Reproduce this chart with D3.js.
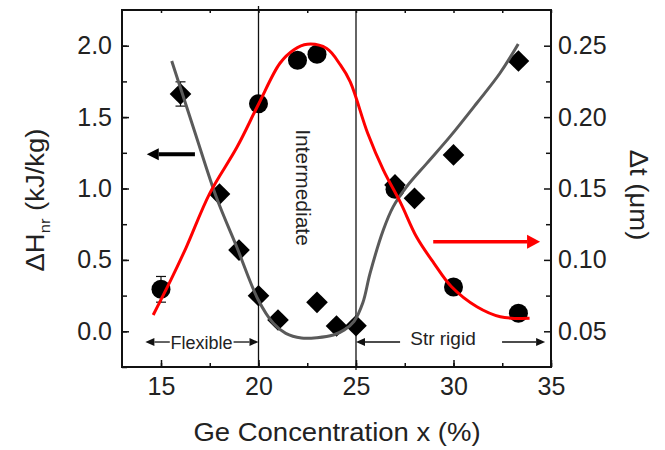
<!DOCTYPE html>
<html>
<head>
<meta charset="utf-8">
<script src="https://cdn.jsdelivr.net/npm/d3@7"></script>
<style>
  body { margin: 0; background: #fff; }
  text { font-family: "Liberation Sans", Arial, sans-serif; fill: #222; }
</style>
</head>
<body>
<div id="chart"></div>
<script>
// circles: delta t (um), right axis
var tConc = [15, 20, 22, 23, 27, 30, 33.33];
var deltaT = [0.0794, 0.2094, 0.2398, 0.2440, 0.1494, 0.0810, 0.0626];
var deltaTErr = [0.009, 0, 0, 0, 0, 0, 0];

// diamonds: delta H_nr (kJ/kg), left axis
var hConc = [16, 18, 19, 20, 21, 23, 24, 25, 27, 28, 30, 33.33];
var deltaH = [1.662, 0.961, 0.569, 0.249, 0.079, 0.203, 0.037, 0.039, 1.025, 0.931, 1.235, 1.893];
var deltaHErr = [0.085, 0, 0, 0, 0, 0, 0, 0, 0, 0, 0, 0];

// guide curves
var redX = [14.6, 15.5, 16.3, 17.5, 18.9, 20.0, 21.1, 21.8, 22.5, 23.5, 24.2, 24.7, 25.6, 26.4, 27.3, 28.1, 29.0, 29.9, 31.2, 32.4, 33.9];
var redY = [0.0614, 0.0858, 0.109, 0.1466, 0.179, 0.209, 0.2377, 0.247, 0.251, 0.248, 0.2365, 0.2248, 0.1887, 0.163, 0.1396, 0.1162, 0.0976, 0.0812, 0.0672, 0.0602, 0.0591];
var grayX = [15.55, 16.7, 17.86, 18.88, 19.99, 20.76, 21.4, 22.2, 23.0, 23.84, 24.4, 24.9, 25.35, 25.72, 26.4, 26.91, 27.6, 28.63, 29.82, 31.19, 32.38, 33.32];
var grayY = [1.893, 1.41, 0.931, 0.592, 0.219, 0.056, -0.015, -0.047, -0.045, -0.026, 0.01, 0.07, 0.2, 0.406, 0.709, 0.873, 1.013, 1.176, 1.363, 1.597, 1.807, 2.012];

var xTicks = [15, 20, 25, 30, 35];
var xMinor = [15, 17.5, 20, 22.5, 25, 27.5, 30, 32.5, 35];
var hTicks = [0, 0.5, 1.0, 1.5, 2.0];
var hMinor = [-0.25, 0, 0.25, 0.5, 0.75, 1.0, 1.25, 1.5, 1.75, 2.0];
var tTicks = [0.05, 0.10, 0.15, 0.20, 0.25];
var tMinor = [0.075, 0.125, 0.175, 0.225];

var W = 665, H = 450;
var margin = {top: 10, left: 122, right: 114, bottom: 83};
var width = W - margin.left - margin.right;
var height = H - margin.top - margin.bottom;

var svg = d3.select("#chart").append("svg")
  .attr("width", W)
  .attr("height", H);

var g = svg.append("g")
  .attr("transform", "translate(" + margin.left + "," + margin.top + ")");

var x = d3.scaleLinear().domain([13, 35]).range([0, width]);
var yH = d3.scaleLinear().domain([-0.25, 2.25]).range([height, 0]);
var yT = d3.scaleLinear().domain([0.025, 0.275]).range([height, 0]);

// axes (ticks point inward)
function styleAxis(sel) {
  sel.select(".domain").remove();
  sel.selectAll("line").attr("stroke", "#111").attr("stroke-width", 1.5);
  sel.selectAll("text").style("font-size", "25px").attr("fill", "#222");
}

g.append("g").attr("transform", "translate(0," + height + ")")
  .call(d3.axisBottom(x).tickValues(xTicks).tickSize(-7).tickPadding(10).tickFormat(d3.format("d")))
  .call(styleAxis);
g.append("g").attr("transform", "translate(0," + height + ")")
  .call(d3.axisBottom(x).tickValues(xMinor).tickSize(-4).tickFormat(""))
  .call(styleAxis);
g.append("g")
  .call(d3.axisTop(x).tickValues(xMinor).tickSize(-3).tickFormat(""))
  .call(styleAxis);

g.append("g")
  .call(d3.axisLeft(yH).tickValues(hTicks).tickSize(-7).tickPadding(10).tickFormat(d3.format(".1f")))
  .call(styleAxis);
g.append("g")
  .call(d3.axisLeft(yH).tickValues(hMinor).tickSize(-5).tickFormat(""))
  .call(styleAxis);

g.append("g").attr("transform", "translate(" + width + ",0)")
  .call(d3.axisRight(yT).tickValues(tTicks).tickSize(-7).tickPadding(7).tickFormat(d3.format(".2f")))
  .call(styleAxis);
g.append("g").attr("transform", "translate(" + width + ",0)")
  .call(d3.axisRight(yT).tickValues(tMinor).tickSize(-5).tickFormat(""))
  .call(styleAxis);

// region boundaries
[20, 25].forEach(function(v, i) {
  g.append("line")
    .attr("x1", x(v)).attr("x2", x(v))
    .attr("y1", i == 0 ? -4 : 0).attr("y2", height + (i == 0 ? 0 : 3))
    .attr("stroke", "#111").attr("stroke-width", 1.3);
});

// frame
g.append("rect")
  .attr("width", width).attr("height", height)
  .attr("fill", "none").attr("stroke", "#111").attr("stroke-width", 2);

// error bars
function errBars(xs, ys, es, ysc) {
  xs.forEach(function(v, i) {
    if (!es[i]) return;
    var cx = x(v), y1 = ysc(ys[i] + es[i]), y2 = ysc(ys[i] - es[i]);
    var eb = g.append("g").attr("stroke", "#111").attr("stroke-width", 1.2);
    eb.append("line").attr("x1", cx).attr("x2", cx).attr("y1", y1).attr("y2", y2);
    eb.append("line").attr("x1", cx - 5).attr("x2", cx + 5).attr("y1", y1).attr("y2", y1);
    eb.append("line").attr("x1", cx - 5).attr("x2", cx + 5).attr("y1", y2).attr("y2", y2);
  });
}
errBars(hConc, deltaH, deltaHErr, yH);
errBars(tConc, deltaT, deltaTErr, yT);

// diamonds
var diamond = d3.symbol().type(d3.symbolSquare).size(235);
g.selectAll(".dia")
  .data(d3.zip(hConc, deltaH))
  .enter().append("path")
  .attr("class", "dia")
  .attr("d", diamond)
  .attr("transform", function(d) { return "translate(" + x(d[0]) + "," + yH(d[1]) + ") rotate(45)"; })
  .attr("fill", "#000");

// circles
g.selectAll(".dot")
  .data(d3.zip(tConc, deltaT))
  .enter().append("circle")
  .attr("class", "dot")
  .attr("cx", function(d) { return x(d[0]); })
  .attr("cy", function(d) { return yT(d[1]); })
  .attr("r", 9.5)
  .attr("fill", "#000");

// curves
var grayLine = d3.line()
  .x(function(d) { return x(d[0]); })
  .y(function(d) { return yH(d[1]); })
  .curve(d3.curveCatmullRom);
g.append("path")
  .datum(d3.zip(grayX, grayY))
  .attr("d", grayLine)
  .attr("fill", "none").attr("stroke", "#5a5a5a").attr("stroke-width", 3);

var redLine = d3.line()
  .x(function(d) { return x(d[0]); })
  .y(function(d) { return yT(d[1]); })
  .curve(d3.curveCatmullRom);
g.append("path")
  .datum(d3.zip(redX, redY))
  .attr("d", redLine)
  .attr("fill", "none").attr("stroke", "#ff0000").attr("stroke-width", 3);

// axis arrows
function bigArrow(x1, x2, yy, col, w, hl, hw) {
  var dir = x2 > x1 ? 1 : -1;
  var px1 = x(x1), px2 = x(x2);
  g.append("line")
    .attr("x1", px1).attr("x2", px2 - dir * hl).attr("y1", yy).attr("y2", yy)
    .attr("stroke", col).attr("stroke-width", w);
  g.append("path")
    .attr("d", "M" + px2 + "," + yy + "L" + (px2 - dir * hl) + "," + (yy - hw) + "L" + (px2 - dir * hl) + "," + (yy + hw) + "Z")
    .attr("fill", col);
}
bigArrow(16.74, 14.27, yH(1.24), "#000", 4, 12, 6);
bigArrow(28.96, 34.44, yT(0.1127), "#ff0000", 3.5, 13, 7);

// region labels with arrows
function thinArrow(x1, x2, yy) {
  bigArrow(x1, x2, yy, "#111", 1.3, 9, 4);
}
var yReg = yH(-0.075);
thinArrow(15.45, 14.2, yReg);
thinArrow(18.72, 20.0, yReg);
g.append("text")
  .attr("x", x(17.08)).attr("y", yReg + 6.5)
  .attr("text-anchor", "middle")
  .style("font-size", "18px")
  .text("Flexible");

thinArrow(27.26, 25.0, yReg);
thinArrow(32.49, 34.7, yReg);
g.append("text")
  .attr("x", x(29.46)).attr("y", yReg + 2.5)
  .attr("text-anchor", "middle")
  .style("font-size", "19px")
  .text("Str rigid");

g.append("text")
  .attr("transform", "translate(" + (296 - margin.left) + "," + (187.5 - margin.top) + ") rotate(90)")
  .attr("text-anchor", "middle")
  .style("font-size", "21px")
  .text("Intermediate");

// axis titles
svg.append("text")
  .attr("transform", "translate(337,441) scale(1.1,1)")
  .attr("text-anchor", "middle")
  .style("font-size", "25px")
  .text("Ge Concentration x (%)");

var yl = svg.append("text")
  .attr("transform", "translate(44,200) rotate(-90) scale(1.1,1)")
  .attr("text-anchor", "middle")
  .style("font-size", "25px");
yl.append("tspan").text("\u0394H");
yl.append("tspan").attr("dy", 6).style("font-size", "15px").text("nr");
yl.append("tspan").attr("dy", -6).text(" (kJ/kg)");

svg.append("text")
  .attr("transform", "translate(630,195) rotate(90) scale(1.1,1)")
  .attr("text-anchor", "middle")
  .style("font-size", "25px")
  .text("\u0394t (\u03bcm)");
</script>
</body>
</html>
